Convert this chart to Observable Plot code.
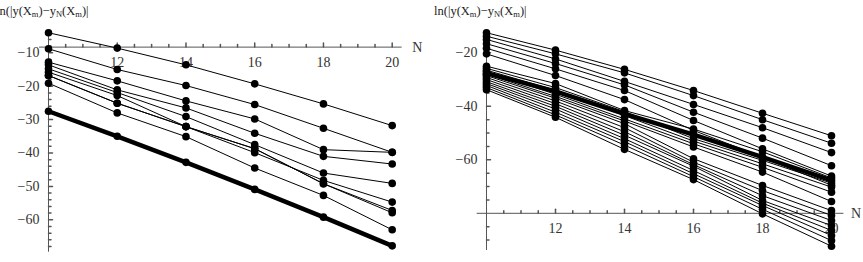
<!DOCTYPE html>
<html><head><meta charset="utf-8">
<script src="https://cdn.jsdelivr.net/npm/d3@7"></script>
<script src="https://cdn.jsdelivr.net/npm/@observablehq/plot@0.6"></script>
<style>
body{margin:0;background:#fff;width:863px;height:262px;overflow:hidden;font-family:"Liberation Serif",serif;}
#row{display:flex;}
.panel{position:relative;overflow:hidden;}
.title{height:22px;font-size:12.5px;line-height:22px;white-space:nowrap;color:#222;}
.title sub{font-size:8.5px;line-height:0;vertical-align:-2px;}
svg{display:block;}
</style></head><body>
<div id="row">
  <div class="panel" id="p1" style="width:430px"><div class="title" style="margin-left:-4px">ln(|y(X<sub>m</sub>)−y<sub>N</sub>(X<sub>m</sub>)|</div></div>
  <div class="panel" id="p2" style="width:433px"><div class="title" style="margin-left:4px">ln(|y(X<sub>m</sub>)−y<sub>N</sub>(X<sub>m</sub>)|</div></div>
</div>
<script>
// x values (N)
const N = [10, 12, 14, 16, 18, 20];
const xTickLabels = [12, 14, 16, 18, 20];

// Left panel
const leftThin = [
  [-4.0, -8.6, -13.6, -19.3, -25.3, -31.8],
  [-8.8, -15.0, -19.8, -25.5, -32.6, -39.8],
  [-12.8, -18.4, -24.4, -29.8, -39.0, -39.8],
  [-13.6, -21.1, -26.5, -34.1, -41.0, -43.3],
  [-14.8, -21.9, -29.1, -37.5, -46.0, -49.1],
  [-15.8, -22.8, -32.1, -39.9, -48.2, -54.7],
  [-16.8, -25.1, -32.1, -38.7, -49.2, -57.2],
  [-16.8, -25.1, -32.1, -38.7, -49.2, -57.9],
  [-19.1, -28.0, -35.1, -44.5, -52.7, -63.0]
];
const leftThick = [-27.5, -35.0, -42.8, -50.9, -59.2, -67.8];
const leftYLabels = [-10, -20, -30, -40, -50, -60];

// Right panel
const rightThin = [
  [-12.5, -19.0, -26.2, -34.1, -42.6, -51.0],
  [-13.8, -20.4, -27.5, -36.0, -45.0, -53.8],
  [-15.0, -22.3, -30.7, -39.3, -48.0, -57.3],
  [-16.6, -24.0, -32.0, -42.2, -51.9, -62.2],
  [-18.3, -26.0, -34.1, -45.3, -55.9, -66.1],
  [-20.4, -28.5, -37.5, -49.0, -59.0, -69.5],
  [-25.0, -31.5, -41.6, -48.5, -57.0, -66.8],
  [-25.8, -33.0, -42.0, -52.1, -60.2, -68.7],
  [-26.5, -34.0, -43.5, -53.0, -61.5, -70.2],
  [-27.0, -35.5, -44.7, -54.0, -62.8, -72.1],
  [-28.0, -36.3, -45.5, -55.2, -64.6, -75.6],
  [-28.5, -37.0, -46.5, -59.6, -69.6, -79.0],
  [-29.2, -38.0, -48.0, -60.9, -71.5, -80.8],
  [-30.0, -39.0, -49.5, -61.8, -73.4, -82.7],
  [-30.8, -40.0, -50.8, -62.4, -75.2, -84.6],
  [-31.5, -41.0, -52.1, -64.0, -76.2, -86.4],
  [-32.2, -42.2, -53.2, -65.2, -77.1, -88.3],
  [-33.0, -43.2, -54.5, -66.3, -78.5, -90.2],
  [-33.8, -44.1, -56.1, -67.4, -80.2, -92.3]
];
const rightThick = [-27.6, -34.4, -42.8, -50.6, -59.0, -67.7];
const rightYLabels = [-20, -40, -60];

const tickShape = {draw(ctx, l) { ctx.moveTo(0, 0); ctx.lineTo(0, -l); }};
const axisColor = "#555";
const font = "Liberation Serif";

function panel(o) {
  const rows = o.thin.flatMap((s, i) => s.map((v, j) => ({n: N[j], v, s: i})));
  const thickRows = o.thick.map((v, j) => ({n: N[j], v}));
  const xMinor = d3.range(10.5, 20.01, 0.5).filter(d => !xTickLabels.includes(d));
  const yTicks = d3.range(o.yStep * Math.ceil(o.yRange[0] / o.yStep), o.yRange[1], o.yStep).filter(d => d !== o.axisY);
  const yMajor = yTicks.filter(d => d % o.yMajorStep === 0);
  const yMinor = yTicks.filter(d => d % o.yMajorStep !== 0);
  return Plot.plot({
    width: o.width, height: 240,
    marginTop: o.marginTop, marginBottom: o.marginBottom,
    marginLeft: o.marginLeft, marginRight: o.marginRight,
    style: {fontFamily: "'Liberation Serif', serif", background: "white"},
    x: {domain: [10, 20], axis: null},
    y: {domain: o.yDomain, axis: null},
    marks: [
      Plot.ruleY([o.axisY], {y: d => d, x1: o.xRange[0], x2: o.xRange[1], stroke: axisColor, strokeWidth: 1}),
      Plot.ruleX([10], {x: d => d, y1: o.yRange[0], y2: o.yRange[1], stroke: axisColor, strokeWidth: 1}),
      Plot.vector(xTickLabels, {x: d => d, y: o.axisY, length: 4, rotate: 0, anchor: "start", shape: tickShape, stroke: axisColor}),
      Plot.vector(xMinor, {x: d => d, y: o.axisY, length: 2.5, rotate: 0, anchor: "start", shape: tickShape, stroke: axisColor}),
      Plot.vector(yMajor, {x: 10, y: d => d, length: 4, rotate: 90, anchor: "start", shape: tickShape, stroke: axisColor}),
      Plot.vector(yMinor, {x: 10, y: d => d, length: 2.5, rotate: 90, anchor: "start", shape: tickShape, stroke: axisColor}),
      Plot.text(xTickLabels, {x: d => d, y: o.axisY, dy: 15, text: d => String(d), fontSize: 14, fontFamily: font, fill: "#333"}),
      Plot.text(o.yLabels, {x: 10, y: d => d, dx: -9, textAnchor: "end", text: d => "\u2212" + Math.abs(d), fontSize: 14, fontFamily: font, fill: "#333"}),
      Plot.text(["N"], {x: o.xRange[1], y: o.axisY, dx: o.nDx, textAnchor: "start", text: d => d, fontSize: 14, fontFamily: font, fill: "#333"}),
      Plot.line(rows, {x: "n", y: "v", z: "s", stroke: "black", strokeWidth: 1}),
      Plot.line(thickRows, {x: "n", y: "v", stroke: "black", strokeWidth: 4.5}),
      Plot.dot(rows.concat(thickRows), {x: "n", y: "v", r: 3.8, fill: "black"})
    ]
  });
}

document.getElementById("p1").appendChild(panel({
  width: 430, thin: leftThin, thick: leftThick,
  yDomain: [-60, -10], marginTop: 30.3, marginBottom: 42.7, marginLeft: 48, marginRight: 38.3,
  axisY: -8.3, xRange: [9.74, 20.29], yRange: [-69.7, -3.9],
  yStep: 2, yMajorStep: 10, yLabels: leftYLabels, nDx: 10
}));
document.getElementById("p2").appendChild(panel({
  width: 433, thin: rightThin, thick: rightThick,
  yDomain: [-60, -20], marginTop: 30.3, marginBottom: 102.7, marginLeft: 56, marginRight: 32,
  axisY: -80, xRange: [9.73, 20.36], yRange: [-93.9, -12.3],
  yStep: 5, yMajorStep: 20, yLabels: rightYLabels, nDx: 7
}));
</script>
</body></html>
